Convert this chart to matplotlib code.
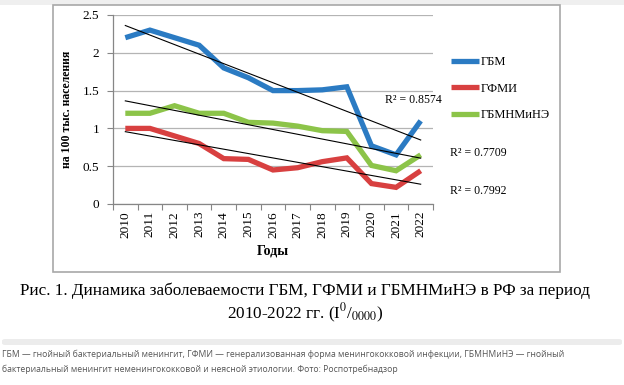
import numpy as np
import matplotlib
matplotlib.use("Agg")
import matplotlib.pyplot as plt
from matplotlib.patches import Rectangle, FancyBboxPatch

plt.rcParams["font.family"] = ["Liberation Serif", "DejaVu Serif"]
plt.rcParams["mathtext.fontset"] = "stix"

years = [str(y) for y in range(2010, 2023)]
gbm = [2.2, 2.3, 2.2, 2.1, 1.8, 1.67, 1.5, 1.5, 1.51, 1.55, 0.77, 0.65, 1.1]
gfmi = [1.0, 1.0, 0.9, 0.8, 0.6, 0.59, 0.45, 0.48, 0.56, 0.61, 0.27, 0.22, 0.44]
gbmnm = [1.2, 1.2, 1.3, 1.2, 1.2, 1.08, 1.07, 1.03, 0.97, 0.96, 0.51, 0.44, 0.65]
series_names = ["ГБМ", "ГФМИ", "ГБМНМиНЭ"]
r2_labels = ["R² = 0.8574", "R² = 0.7709", "R² = 0.7992"]
yticks = [0, 0.5, 1, 1.5, 2, 2.5]
ytick_labels = ["0", "0.5", "1", "1.5", "2", "2.5"]

colors = ["#2b7bc3", "#d84040", "#8cc449"]

W, H = 624, 385
fig = plt.figure(figsize=(W / 100, H / 100), dpi=100)

# page decorations: top strip, picture frame, separator bar
fig.patches.append(Rectangle((0, 1 - 5 / H), 1, 5 / H, transform=fig.transFigure,
                             facecolor="#efefef", edgecolor="none", zorder=-2))
fig.patches.append(Rectangle((53 / W, 1 - 272 / H), (560 - 53) / W, (272 - 5) / H,
                             transform=fig.transFigure, facecolor="white",
                             edgecolor="#a8a8a8", lw=1.2, zorder=-2))
fig.patches.append(FancyBboxPatch((2 / W, 1 - 345 / H), 620 / W, 6 / H,
                                  boxstyle="round,pad=0,rounding_size=0.005",
                                  transform=fig.transFigure, facecolor="#ececec",
                                  edgecolor="none", zorder=-2))

ax = fig.add_axes([113 / W, 1 - 204 / H, (433 - 113) / W, (204 - 15) / H])
ax.set_zorder(2)
x = np.arange(len(years))

for vals, name, c in zip([gbm, gfmi, gbmnm], series_names, colors):
    ax.plot(x, vals, color=c, lw=3.8, solid_joinstyle="miter", solid_capstyle="butt",
            label=name, zorder=3)

# linear trend lines
for vals in [gbm, gfmi, gbmnm]:
    k, b = np.polyfit(x, vals, 1)
    ax.plot([x[0], x[-1]], [k * x[0] + b, k * x[-1] + b], color="black", lw=0.8, zorder=4)

ax.set_xlim(-0.5, len(years) - 0.5)
ax.set_ylim(0, 2.5)
ax.set_yticks(yticks)
ax.set_yticklabels(ytick_labels, fontsize=9.5)
ax.set_xticks(x)
ax.set_xticklabels(years, rotation=90, fontsize=9.5)
ax.set_xticks(np.arange(-0.5, len(years)), minor=True)
ax.tick_params(axis="x", which="major", length=0, pad=5)
ax.tick_params(axis="x", which="minor", length=4, color="#868686", width=0.8)
ax.tick_params(axis="y", length=4, color="#868686", width=0.8, pad=6)
ax.grid(axis="y", color="#b4b4b4", lw=0.9, zorder=0)
for s in ["top", "right"]:
    ax.spines[s].set_visible(False)
for s in ["left", "bottom"]:
    ax.spines[s].set_color("#868686")
    ax.spines[s].set_linewidth(0.9)

ax.set_ylabel("на 100 тыс. населения", fontsize=8.5, fontweight="bold", labelpad=7)
ax.set_xlabel("Годы", fontsize=10, fontweight="bold", labelpad=5)

leg = ax.legend(loc="upper left", bbox_to_anchor=(445 / W, 1 - 50 / H),
                bbox_transform=fig.transFigure, frameon=False, fontsize=9,
                handlelength=2.2, handletextpad=0.15, labelspacing=1.15,
                borderpad=0)

fig.text(385 / W, 1 - 100 / H, r2_labels[0], fontsize=8.5, va="center")
fig.text(450 / W, 1 - 153 / H, r2_labels[1], fontsize=8.5, va="center")
fig.text(450 / W, 1 - 191 / H, r2_labels[2], fontsize=8.5, va="center")

fig.text(305 / W, 1 - 291 / H,
         "Рис. 1. Динамика заболеваемости ГБМ, ГФМИ и ГБМНМиНЭ в РФ за период",
         fontsize=12.3, ha="center", va="center")
fig.text(305 / W, 1 - 313 / H, r"2010-2022 гг. (I$^{0}$/$_{0000}$)",
         fontsize=12.3, ha="center", va="center")

foot = ("ГБМ — гнойный бактериальный менингит, ГФМИ — генерализованная форма "
        "менингококковой инфекции, ГБМНМиНЭ — гнойный\nбактериальный менингит "
        "неменингококковой и неясной этиологии. Фото: Роспотребнадзор")
fig.text(2 / W, 1 - 362 / H, foot, fontsize=6.2, color="#555555", va="center",
         family=["Open Sans", "DejaVu Sans"], linespacing=1.7)

fig.savefig("out.png", dpi=100)
